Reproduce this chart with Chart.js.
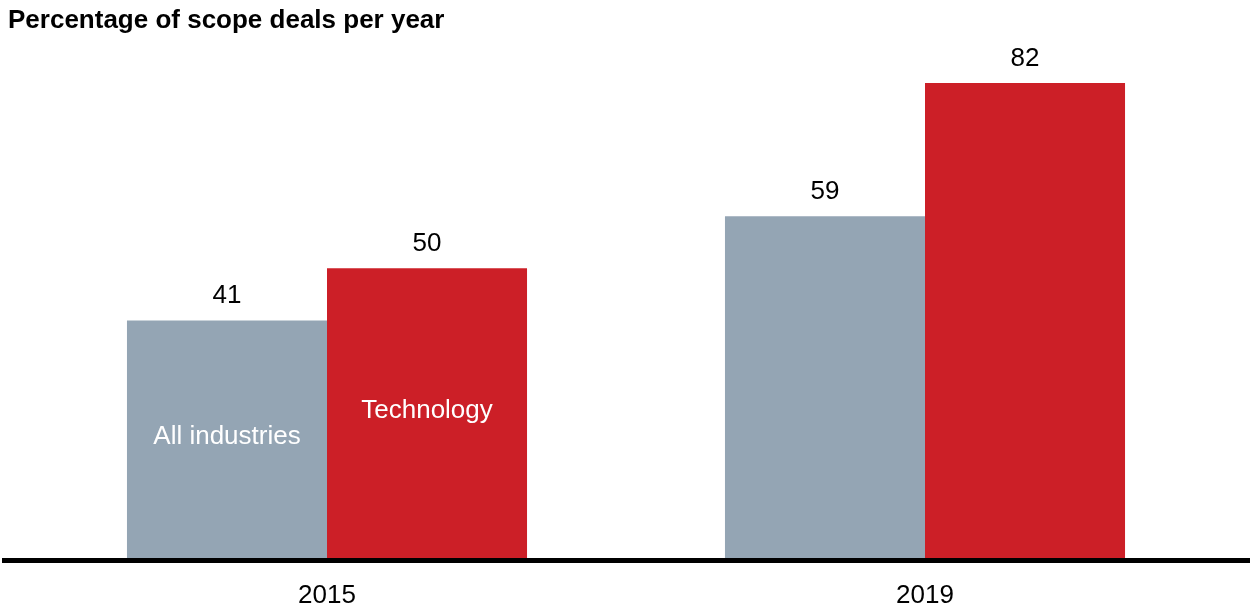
<!DOCTYPE html>
<html>
<head>
<meta charset="utf-8">
<title>Scope deals</title>
<script src="https://cdn.jsdelivr.net/npm/chart.js@4/dist/chart.umd.min.js"></script>
<style>
  html, body { margin: 0; padding: 0; background: #fff; overflow: hidden; }
  #wrap { width: 1250px; height: 608px; position: relative; }
</style>
</head>
<body>
<div id="wrap"><canvas id="chart"></canvas></div>
<script>
  // dados
  const years = ['2015', '2019'];
  const seriesNames = ['All industries', 'Technology'];
  const allIndustries = [41, 59];
  const technology = [50, 82];

  const GRAY = '#94a5b4';
  const RED = '#cc1f27';
  const FONT = '"Liberation Sans", Arial, Helvetica, sans-serif';

  // titulo, rotulos de valor, nomes das series e linha de base
  const decor = {
    id: 'decor',
    afterDatasetsDraw(chart) {
      const ctx = chart.ctx;
      ctx.save();

      // valores por cima das barras
      ctx.fillStyle = '#000';
      ctx.font = '26px ' + FONT;
      ctx.textAlign = 'center';
      ctx.textBaseline = 'alphabetic';
      chart.data.datasets.forEach((ds, i) => {
        chart.getDatasetMeta(i).data.forEach((bar, j) => {
          ctx.fillText(String(ds.data[j]), bar.x, bar.y - 17);
        });
      });

      // nome da serie dentro da primeira barra
      ctx.fillStyle = '#fff';
      ctx.textBaseline = 'middle';
      chart.data.datasets.forEach((ds, i) => {
        const bar = chart.getDatasetMeta(i).data[0];
        ctx.fillText(ds.label, bar.x, (bar.y + bar.base) / 2 - 2);
      });

      // linha do eixo
      const y0 = chart.scales.y.getPixelForValue(0);
      ctx.fillStyle = '#000';
      ctx.fillRect(2, y0, chart.width - 2, 5);

      // titulo
      ctx.textAlign = 'left';
      ctx.textBaseline = 'alphabetic';
      ctx.font = 'bold 26px ' + FONT;
      ctx.fillText('Percentage of scope deals per year', 8, 28);
      ctx.restore();
    }
  };

  new Chart(document.getElementById('chart'), {
    type: 'bar',
    data: {
      labels: years,
      datasets: [
        { label: seriesNames[0], data: allIndustries, backgroundColor: GRAY, borderWidth: 0 },
        { label: seriesNames[1], data: technology, backgroundColor: RED, borderWidth: 0 }
      ]
    },
    options: {
      responsive: true,
      maintainAspectRatio: false,
      animation: false,
      layout: { padding: { top: 40, left: 28, right: 26, bottom: 0 } },
      datasets: {
        bar: { categoryPercentage: 0.669, barPercentage: 1 }
      },
      plugins: {
        legend: { display: false },
        tooltip: { enabled: false },
        title: { display: false }
      },
      scales: {
        x: {
          grid: { display: false, drawTicks: false },
          border: { display: false },
          ticks: {
            color: '#000',
            padding: 25,
            font: { family: FONT, size: 26, lineHeight: 1 }
          },
          // altura fixa do eixo: o padding conta a dobrar no fit
          afterFit(scale) { scale.height = 50; }
        },
        y: {
          display: false,
          min: 0,
          max: 89.4
        }
      }
    },
    plugins: [decor]
  });
</script>
</body>
</html>
